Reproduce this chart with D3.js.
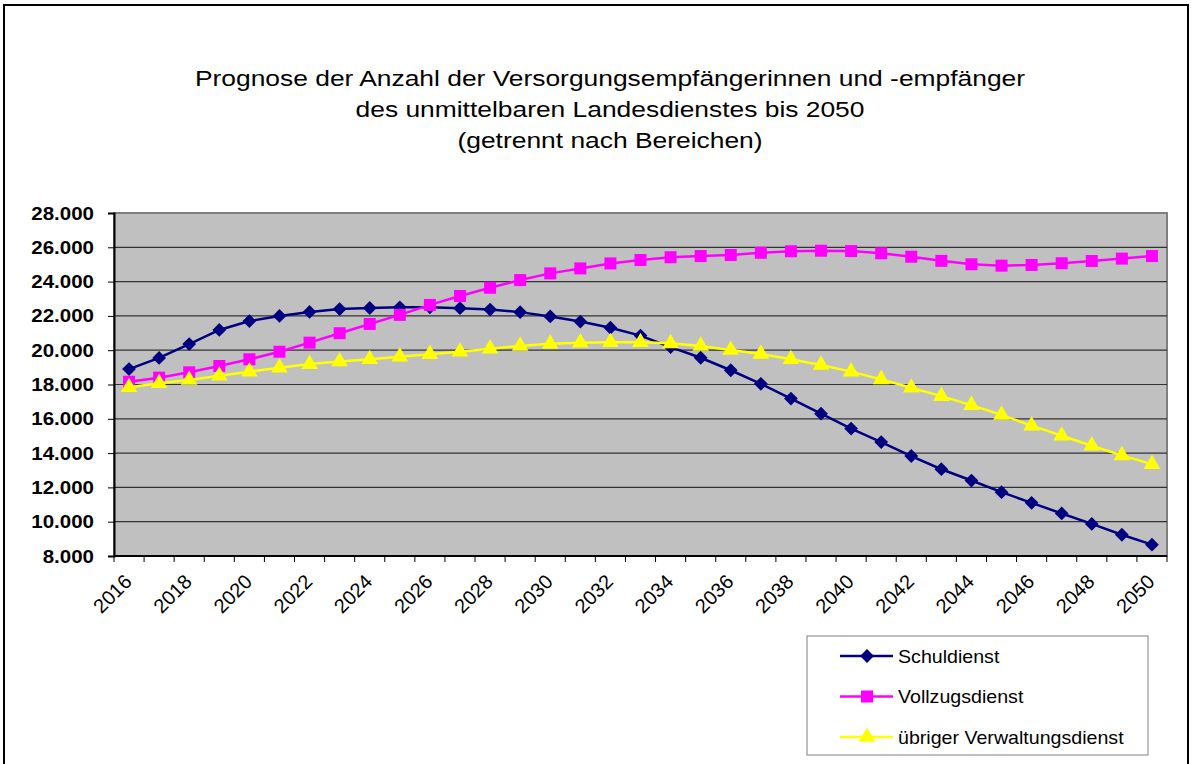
<!DOCTYPE html>
<html>
<head>
<meta charset="utf-8">
<script src="https://cdn.jsdelivr.net/npm/d3@7"></script>
<style>
  body { margin: 0; background: #fff; }
  text { font-family: "Liberation Sans", Arial, sans-serif; }
</style>
</head>
<body>
<div class="canvas"></div>
<script>
const years = d3.range(2016, 2051);

const schuldienst = [
  18900, 19550, 20360, 21180, 21700, 22000, 22230, 22400, 22460, 22500,
  22500, 22450, 22370, 22220, 21970, 21670, 21310, 20850, 20180, 19560,
  18830, 18040, 17180, 16300, 15430, 14640, 13830, 13060, 12400, 11720,
  11100, 10480, 9870, 9240, 8660
];
const vollzugsdienst = [
  18160, 18400, 18710, 19080, 19470, 19910, 20440, 20990, 21530, 22060,
  22640, 23160, 23640, 24090, 24480, 24770, 25060, 25260, 25420, 25490,
  25550, 25680, 25770, 25800, 25780, 25650, 25450, 25210, 25010, 24930,
  24970, 25070, 25200, 25340, 25490
];
const verwaltungsdienst = [
  17840, 18070, 18260, 18510, 18750, 18980, 19190, 19340, 19470, 19620,
  19770, 19910, 20090, 20250, 20370, 20440, 20460, 20460, 20400, 20250,
  20010, 19780, 19470, 19140, 18750, 18300, 17810, 17320, 16800, 16230,
  15600, 15010, 14430, 13870, 13360
];

const seriesNames = ["Schuldienst", "Vollzugsdienst", "übriger Verwaltungsdienst"];
const seriesColors = ["#000080", "#ff00ff", "#ffff00"];
const seriesValues = [schuldienst, vollzugsdienst, verwaltungsdienst];
const yTicks = d3.range(8000, 28001, 2000);

const width = 1196;
const height = 764;

const svg = d3
  .select(".canvas")
  .append("svg")
  .attr("width", width)
  .attr("height", height);

// outer frame
svg
  .append("rect")
  .attr("x", 4)
  .attr("y", 5)
  .attr("width", 1184)
  .attr("height", 770)
  .attr("fill", "#fff")
  .attr("stroke", "#000")
  .attr("stroke-width", 2);

// title (the original is a bit stretched sideways)
const titleLines = [
  "Prognose der Anzahl der Versorgungsempfängerinnen und -empfänger",
  "des unmittelbaren Landesdienstes bis 2050",
  "(getrennt nach Bereichen)"
];
svg
  .selectAll(".title")
  .data(titleLines)
  .enter()
  .append("text")
  .attr("class", "title")
  .attr("transform", (d, i) => `translate(610,${86 + i * 31}) scale(1.2,1)`)
  .attr("text-anchor", "middle")
  .attr("font-size", 22)
  .text((d) => d);

const plot = { left: 114, right: 1167, top: 213, bottom: 556 };

const x = d3
  .scaleBand()
  .domain(years)
  .range([plot.left, plot.right]);

const y = d3
  .scaleLinear()
  .domain([8000, 28000])
  .range([plot.bottom, plot.top]);

const cx = (yr) => x(yr) + x.bandwidth() / 2;

// plot background
svg
  .append("rect")
  .attr("x", plot.left)
  .attr("y", plot.top)
  .attr("width", plot.right - plot.left)
  .attr("height", plot.bottom - plot.top)
  .attr("fill", "#c0c0c0")
  .attr("stroke", "#808080")
  .attr("stroke-width", 2);

// gridlines
svg
  .selectAll(".grid")
  .data(yTicks.slice(1, -1))
  .enter()
  .append("line")
  .attr("x1", plot.left)
  .attr("x2", plot.right)
  .attr("y1", (d) => y(d))
  .attr("y2", (d) => y(d))
  .attr("stroke", "#333")
  .attr("stroke-width", 1.2);

// y axis
const de = d3.formatLocale({
  decimal: ",",
  thousands: ".",
  grouping: [3],
  currency: ["", " €"]
});
const yAxis = svg
  .append("g")
  .attr("transform", `translate(${plot.left},0)`)
  .call(d3.axisLeft(y).tickValues(yTicks).tickFormat("").tickSize(6));
yAxis.select(".domain").attr("stroke", "#000").attr("stroke-width", 2);
yAxis.selectAll(".tick line").attr("stroke", "#000");

svg
  .selectAll(".ylabel")
  .data(yTicks)
  .enter()
  .append("text")
  .attr("class", "ylabel")
  .attr("transform", (d) => `translate(94,${y(d) + 6.5}) scale(1.14,1)`)
  .attr("text-anchor", "end")
  .attr("font-size", 18)
  .attr("font-weight", "bold")
  .text((d) => de.format(",d")(d));

// x axis: ticks at category edges
const edges = years.map((d) => x(d)).concat([plot.right]);
svg
  .append("line")
  .attr("x1", plot.left)
  .attr("x2", plot.right)
  .attr("y1", plot.bottom)
  .attr("y2", plot.bottom)
  .attr("stroke", "#000")
  .attr("stroke-width", 2);
svg
  .selectAll(".xtick")
  .data(edges)
  .enter()
  .append("line")
  .attr("x1", (d) => d)
  .attr("x2", (d) => d)
  .attr("y1", plot.bottom)
  .attr("y2", plot.bottom + 6)
  .attr("stroke", "#000");

svg
  .selectAll(".xlabel")
  .data(years.filter((d) => (d - 2016) % 2 === 0))
  .enter()
  .append("text")
  .attr("class", "xlabel")
  .attr("text-anchor", "end")
  .attr("font-size", 20)
  .attr("transform", (d) => `translate(${cx(d) + 4},${plot.bottom + 27}) rotate(-45)`)
  .text((d) => d);

// series
const line = d3
  .line()
  .x((d, i) => cx(years[i]))
  .y((d) => y(d));

const diamond = d3.symbol().type(d3.symbolSquare).size(95);
const square = d3.symbol().type(d3.symbolSquare).size(144);
const triangle = d3.symbol().type(d3.symbolTriangle).size(120);
const markers = [diamond, square, triangle];
const markerRot = [45, 0, 0];

seriesValues.forEach((vals, s) => {
  svg
    .append("path")
    .attr("d", line(vals))
    .attr("fill", "none")
    .attr("stroke", seriesColors[s])
    .attr("stroke-width", 2.5);
  svg
    .selectAll(".m" + s)
    .data(vals)
    .enter()
    .append("path")
    .attr("class", "m" + s)
    .attr("d", markers[s])
    .attr("transform", (d, i) => `translate(${cx(years[i])},${y(d)}) rotate(${markerRot[s]})`)
    .attr("fill", seriesColors[s]);
});

// legend
const legend = svg.append("g").attr("transform", "translate(807,636)");
legend
  .append("rect")
  .attr("width", 341)
  .attr("height", 119)
  .attr("fill", "#fff")
  .attr("stroke", "#808080")
  .attr("stroke-width", 1);

seriesNames.forEach((name, s) => {
  const ly = 20 + s * 40.5;
  legend
    .append("line")
    .attr("x1", 33)
    .attr("x2", 86)
    .attr("y1", ly)
    .attr("y2", ly)
    .attr("stroke", seriesColors[s])
    .attr("stroke-width", 2.5);
  legend
    .append("path")
    .attr("d", markers[s])
    .attr("transform", `translate(60,${ly}) rotate(${markerRot[s]})`)
    .attr("fill", seriesColors[s]);
  legend
    .append("text")
    .attr("transform", `translate(91,${ly + 6.5}) scale(1.09,1)`)
    .attr("font-size", 18)
    .text(name);
});
</script>
</body>
</html>
